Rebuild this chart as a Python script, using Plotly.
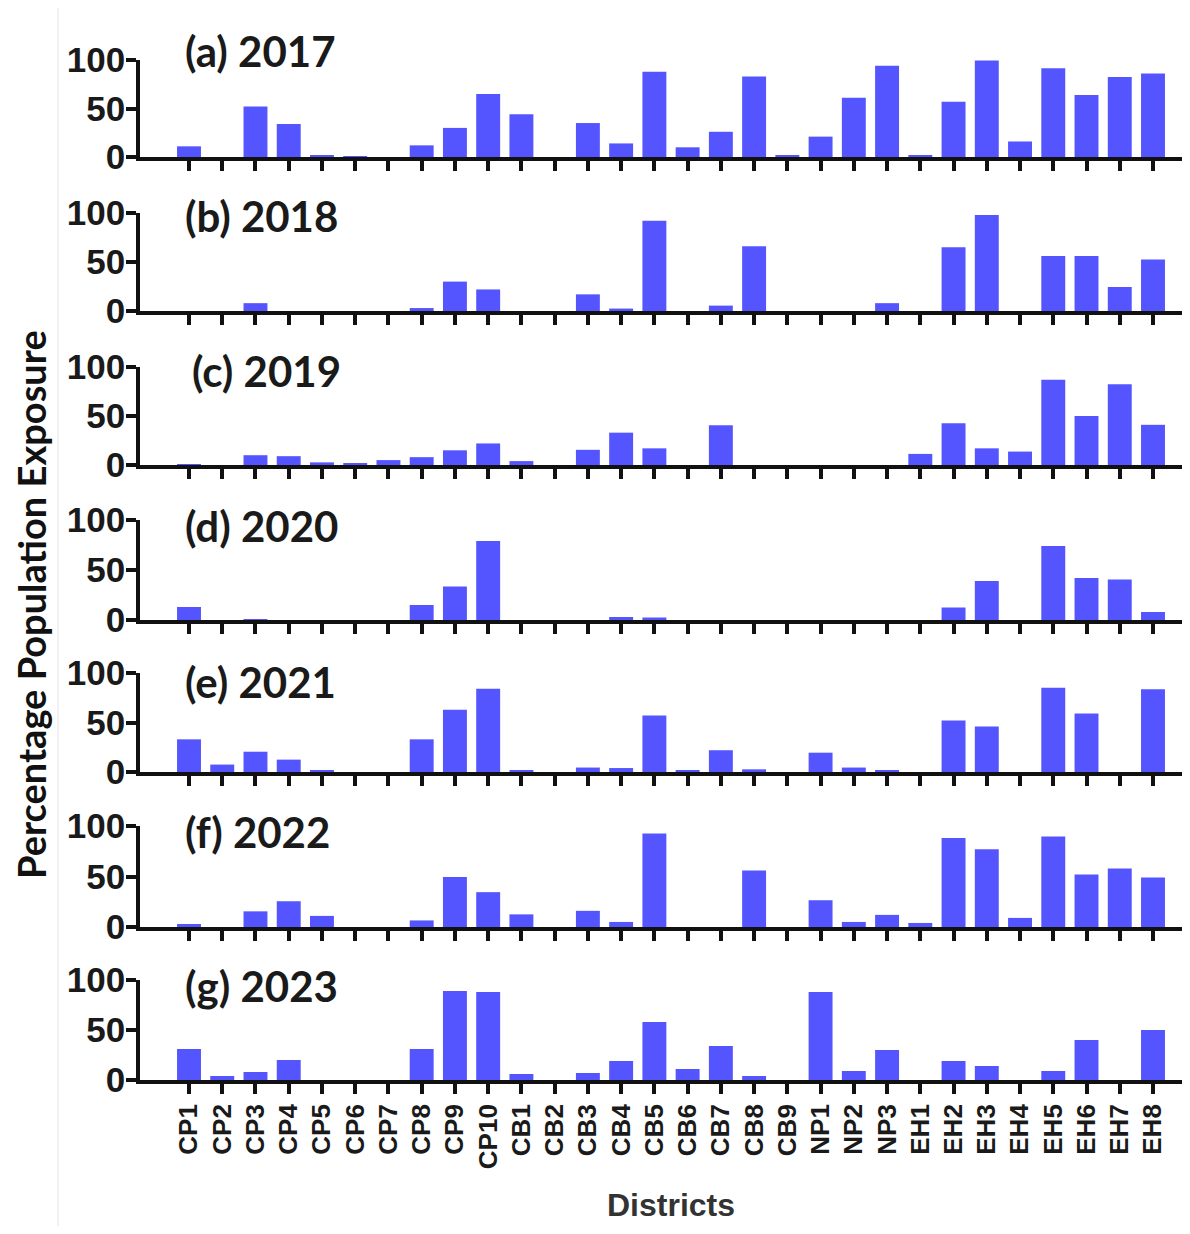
import plotly.graph_objects as go

districts = ["CP1","CP2","CP3","CP4","CP5","CP6","CP7","CP8","CP9","CP10",
             "CB1","CB2","CB3","CB4","CB5","CB6","CB7","CB8","CB9",
             "NP1","NP2","NP3",
             "EH1","EH2","EH3","EH4","EH5","EH6","EH7","EH8"]

v2017 = [11, 0, 52, 34, 2, 0.5, 0, 12, 30, 65, 44, 0, 35, 14, 88, 10, 26, 83, 1.8,
         21, 61, 94, 1.8, 57, 99.5, 16, 91.5, 64, 82.5, 86]
v2018 = [0, 0, 8, 0, 0, 0, 0, 3, 30, 22, 0, 0, 17, 2.5, 92, 0, 5.5, 66, 0,
         0, 0, 8, 0, 65, 98, 0, 56, 56, 24.5, 52.5]
v2019 = [1, 0, 10, 9, 2.7, 1.2, 5, 8, 15, 22, 4, 0, 15.5, 33, 17, 0, 40.5, 0, 0,
         0, 0, 0, 11.3, 42.5, 17, 13.7, 87, 50, 82.5, 41]
v2020 = [13, 0, 0.8, 0, 0, 0, 0, 15, 33.5, 79, 0, 0, 0, 3, 2.5, 0, 0, 0, 0,
         0, 0, 0, 0, 12.5, 39, 0, 74, 42, 40.5, 8]
v2021 = [33, 7.5, 20.5, 12.5, 2, 0, 0, 33, 63, 84, 2, 0, 4.5, 4, 57, 1.4, 22, 2.7, 0,
         19.5, 4.5, 1.8, 0, 52, 46, 0, 85, 59, 0, 83.5]
v2022 = [3, 0, 15.5, 25.5, 11, 0, 0, 6.5, 49.5, 34.5, 12.5, 0, 16, 5, 92.5, 0, 0, 56, 0,
         26.5, 5, 12, 4, 88, 77, 9, 89.5, 52, 58, 49]
v2023 = [31, 4, 8, 20, 0, 0, 0, 31, 89, 88, 6, 0, 7, 19, 58, 11, 34, 4, 0,
         88, 9, 30, 0, 19, 14, 0, 9, 40, 0, 50]

panel_labels = ["(a) 2017", "(b) 2018", "(c) 2019", "(d) 2020", "(e) 2021", "(f) 2022", "(g) 2023"]
series = [v2017, v2018, v2019, v2020, v2021, v2022, v2023]

y_ticks = [0, 50, 100]
y_tick_text = ["0", "50", "100"]

# page body has an 8px margin; work in page pixels and shift
OFF = 8
W, H = 1174, 1218
ML, MR, MT, MB = 140 - OFF, 0, 40 - OFF, 1234 - OFF - 1080
PW = W - ML - MR
PH = H - MT - MB

def px_x(px):
    return (px - OFF - ML) / PW

def px_y(py):
    return (H - MB - (py - OFF)) / PH

# page pixel of baseline (0) and top (100) of each panel
panel_px = [(157, 60), (311, 213), (465, 367), (620, 520), (772, 673), (927, 826), (1080, 980)]
label_px = [(183, 51), (183, 216), (190, 371), (183, 526), (183, 682), (183, 832), (183, 986)]

BAR = "#5555FF"
AX = "#111111"
TICKFONT = dict(family="Liberation Sans, Arial, sans-serif", size=35, color="#1a1a1a", weight="bold")
XTICKFONT = dict(family="Liberation Sans, Arial, sans-serif", size=26, color="#1a1a1a", weight="bold")

# x range: categories CP1 at page x=189, spacing ~33.24 px, axis from page x 140 to right edge
step = (1153 - 189) / 29
x_lo = (140 - 189) / step
x_hi = (OFF + W - 189) / step

fig = go.Figure()
layout = {}
for i, vals in enumerate(series):
    n = i + 1
    xa = "x" if n == 1 else f"x{n}"
    ya = "y" if n == 1 else f"y{n}"
    fig.add_trace(go.Bar(x=districts, y=vals, marker=dict(color=BAR, line=dict(width=0)),
                         xaxis=xa, yaxis=ya, showlegend=False))
    base, top = panel_px[i]
    xkey = "xaxis" if n == 1 else f"xaxis{n}"
    ykey = "yaxis" if n == 1 else f"yaxis{n}"
    last = (n == len(series))
    layout[xkey] = dict(
        domain=[0, 1], anchor=ya, type="category", range=[x_lo, x_hi],
        categoryorder="array", categoryarray=districts,
        showline=True, linecolor=AX, linewidth=3.5,
        ticks="outside", ticklen=10, tickwidth=3.5, tickcolor=AX,
        showticklabels=last, tickangle=-90,
        tickfont=XTICKFONT,
        showgrid=False, zeroline=False, fixedrange=True,
    )
    layout[ykey] = dict(
        domain=[px_y(base), px_y(top)], anchor=xa, range=[0, 100],
        tickvals=y_ticks, ticktext=y_tick_text,
        showline=True, linecolor=AX, linewidth=3.5,
        ticks="outside", ticklen=10, tickwidth=3.5, tickcolor=AX,
        tickfont=TICKFONT, showgrid=False, zeroline=False, ticklabelstandoff=-6,
    )

annotations = []
for i, lab in enumerate(panel_labels):
    lx, ly = label_px[i]
    annotations.append(dict(text=f"<b>{lab}</b>", xref="paper", yref="paper",
                            x=px_x(lx), y=px_y(ly), xanchor="left", yanchor="middle",
                            showarrow=False,
                            font=dict(family="Lato, Open Sans, sans-serif", size=42, color="#1a1a1a")))

annotations.append(dict(text="<b>Percentage Population Exposure</b>", xref="paper", yref="paper",
                        x=px_x(31), y=px_y(605), xanchor="center", yanchor="middle",
                        textangle=-90, showarrow=False,
                        font=dict(family="Lato, Open Sans, sans-serif", size=38, color="#111111")))
annotations.append(dict(text="<b>Districts</b>", xref="paper", yref="paper",
                        x=px_x(671), y=px_y(1225), xanchor="center", yanchor="bottom",
                        showarrow=False,
                        font=dict(family="Liberation Sans, Arial, sans-serif", size=32, color="#333333")))

shapes = [dict(type="line", xref="paper", yref="paper", x0=px_x(58), x1=px_x(58),
               y0=px_y(1234), y1=px_y(0), line=dict(color="#e6e6e6", width=1))]

fig.update_layout(
    width=W, height=H,
    margin=dict(l=ML, r=MR, t=MT, b=MB),
    paper_bgcolor="white", plot_bgcolor="white",
    bargap=0.28,
    annotations=annotations, shapes=shapes,
    **layout,
)

fig.write_html("out.html")
